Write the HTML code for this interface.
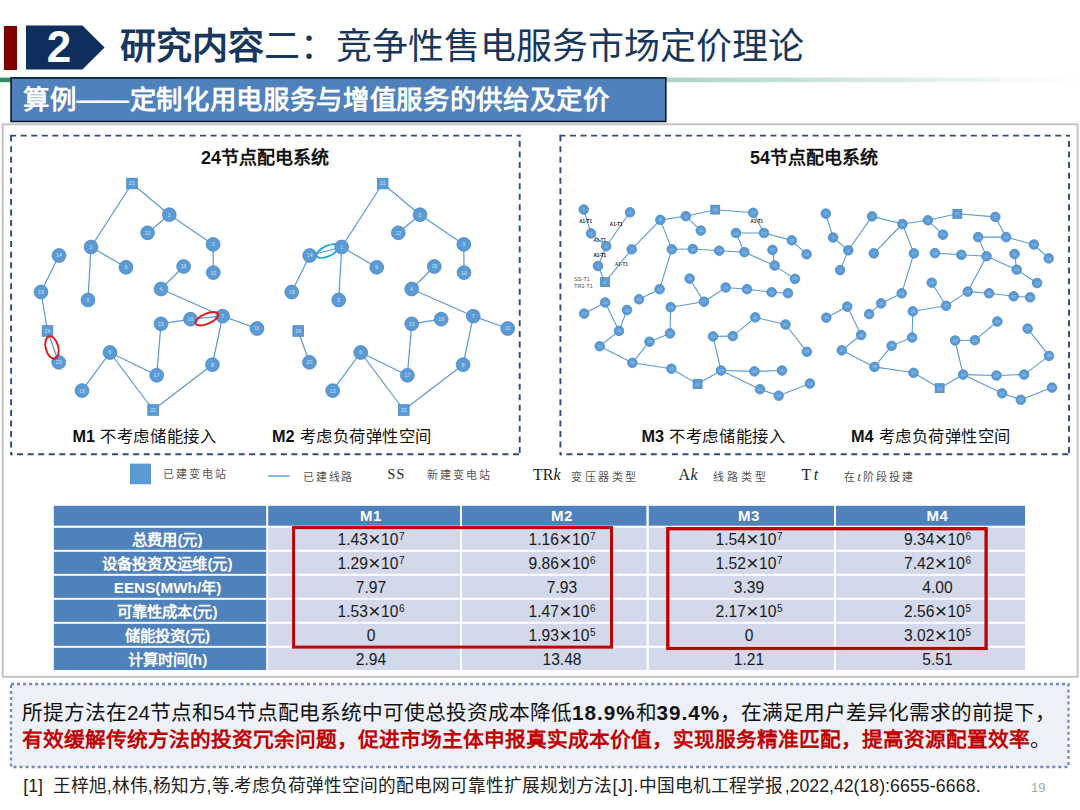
<!DOCTYPE html>
<html lang="zh-CN"><head><meta charset="utf-8"><title>slide</title>
<style>
html,body{margin:0;padding:0;background:#fff}
body{width:1080px;height:810px;position:relative;overflow:hidden;font-family:"Liberation Sans",sans-serif;color:#111}
.abs{position:absolute;white-space:nowrap}
.j{text-align:justify;text-align-last:justify}
.ht{color:#fff;font-weight:bold;font-size:15px;text-align:center;letter-spacing:.5px}
.rl{color:#fff;font-weight:bold;font-size:15.3px}
.dv{color:#1a1a1a;font-size:15.6px;text-align:center}
sup{font-size:10px;vertical-align:baseline;position:relative;top:-4.6px;line-height:0;margin-left:.5px}
.x{font-size:21px;line-height:0;position:relative;top:1.2px;margin:0 .5px}
.ser{font-family:"Liberation Serif",serif}
.lgs{font-family:"Liberation Serif",serif;font-size:14.5px;color:#222;line-height:16px;height:16px}
.ls{letter-spacing:1px}
</style></head><body>
<svg class="abs" style="left:0;top:0" width="1080" height="810" viewBox="0 0 1080 810"><defs><linearGradient id="gg" x1="0" x2="1" y1="0" y2="0"><stop offset="0" stop-color="#2e8b62"/><stop offset="1" stop-color="#ffffff"/></linearGradient></defs><rect x="0" y="77.6" width="1080" height="4.6" fill="url(#gg)"/><rect x="2.7" y="124.3" width="1074.9" height="552.5" fill="#fff" stroke="#c1c1c1" stroke-width="1.9"/><rect x="11.1" y="77.9" width="654.7" height="43.6" fill="#4f81bd" stroke="#0a1626" stroke-width="1.6"/><rect x="11" y="684" width="1057.5" height="83" fill="#eef1f8" stroke="#7189c3" stroke-width="2.3" stroke-dasharray="3 3.04"/><rect x="53.8" y="505.8" width="212.4" height="19.9" fill="#4f81bd"/><rect x="268.2" y="505.8" width="191.8" height="19.9" fill="#4f81bd"/><rect x="462" y="505.8" width="184.4" height="19.9" fill="#4f81bd"/><rect x="648.8" y="505.8" width="185.2" height="19.9" fill="#4f81bd"/><rect x="836" y="505.8" width="189.0" height="19.9" fill="#4f81bd"/><rect x="53.8" y="527.8" width="212.4" height="22" fill="#4f81bd"/><rect x="268.2" y="527.8" width="191.8" height="22" fill="#d3d8ea"/><rect x="462" y="527.8" width="184.4" height="22" fill="#d3d8ea"/><rect x="648.8" y="527.8" width="185.2" height="22" fill="#d3d8ea"/><rect x="836" y="527.8" width="189.0" height="22" fill="#d3d8ea"/><rect x="53.8" y="551.8" width="212.4" height="22" fill="#4f81bd"/><rect x="268.2" y="551.8" width="191.8" height="22" fill="#d3d8ea"/><rect x="462" y="551.8" width="184.4" height="22" fill="#d3d8ea"/><rect x="648.8" y="551.8" width="185.2" height="22" fill="#d3d8ea"/><rect x="836" y="551.8" width="189.0" height="22" fill="#d3d8ea"/><rect x="53.8" y="575.8" width="212.4" height="22" fill="#4f81bd"/><rect x="268.2" y="575.8" width="191.8" height="22" fill="#d3d8ea"/><rect x="462" y="575.8" width="184.4" height="22" fill="#d3d8ea"/><rect x="648.8" y="575.8" width="185.2" height="22" fill="#d3d8ea"/><rect x="836" y="575.8" width="189.0" height="22" fill="#d3d8ea"/><rect x="53.8" y="599.8" width="212.4" height="22" fill="#4f81bd"/><rect x="268.2" y="599.8" width="191.8" height="22" fill="#d3d8ea"/><rect x="462" y="599.8" width="184.4" height="22" fill="#d3d8ea"/><rect x="648.8" y="599.8" width="185.2" height="22" fill="#d3d8ea"/><rect x="836" y="599.8" width="189.0" height="22" fill="#d3d8ea"/><rect x="53.8" y="623.8" width="212.4" height="22" fill="#4f81bd"/><rect x="268.2" y="623.8" width="191.8" height="22" fill="#d3d8ea"/><rect x="462" y="623.8" width="184.4" height="22" fill="#d3d8ea"/><rect x="648.8" y="623.8" width="185.2" height="22" fill="#d3d8ea"/><rect x="836" y="623.8" width="189.0" height="22" fill="#d3d8ea"/><rect x="53.8" y="647.8" width="212.4" height="22.2" fill="#4f81bd"/><rect x="268.2" y="647.8" width="191.8" height="22.2" fill="#d3d8ea"/><rect x="462" y="647.8" width="184.4" height="22.2" fill="#d3d8ea"/><rect x="648.8" y="647.8" width="185.2" height="22.2" fill="#d3d8ea"/><rect x="836" y="647.8" width="189.0" height="22.2" fill="#d3d8ea"/></svg>
<div class="abs" style="left:4.4px;top:25.6px;width:12.6px;height:44px;background:#800000"></div>
<svg class="abs" style="left:0;top:0" width="120" height="80" viewBox="0 0 120 80"><polygon points="26,25.6 82.4,25.6 104.6,47.6 82.4,69.6 26,69.6" fill="#0e2f5e"/></svg>
<div class="abs" style="left:29px;top:22px;width:60px;height:50px;line-height:50px;text-align:center;color:#fff;font-weight:bold;font-size:44px">2</div>
<svg class="abs" style="left:0;top:0" width="1080" height="810" viewBox="0 0 1080 810"><g stroke="#5b9bd5" stroke-width="1.25" stroke-linecap="round"><line x1="132.0" y1="183.5" x2="169.3" y2="214.7"/><line x1="132.0" y1="183.5" x2="91.0" y2="247.0"/><line x1="169.3" y1="214.7" x2="147.6" y2="232.8"/><line x1="169.3" y1="214.7" x2="213.1" y2="244.4"/><line x1="213.1" y1="244.4" x2="213.3" y2="272.6"/><line x1="91.0" y1="247.0" x2="126.0" y2="267.3"/><line x1="91.0" y1="247.0" x2="88.0" y2="300.0"/><line x1="59.0" y1="255.5" x2="41.0" y2="292.0"/><line x1="41.0" y1="292.0" x2="47.5" y2="331.0"/><line x1="47.5" y1="331.0" x2="58.7" y2="362.3"/><line x1="183.6" y1="266.5" x2="161.0" y2="289.0"/><line x1="161.0" y1="289.0" x2="222.6" y2="316.2"/><line x1="222.6" y1="316.2" x2="190.5" y2="319.2"/><line x1="190.5" y1="319.2" x2="161.0" y2="323.8"/><line x1="161.0" y1="323.8" x2="156.7" y2="375.3"/><line x1="222.6" y1="316.2" x2="257.0" y2="328.5"/><line x1="222.6" y1="316.2" x2="212.4" y2="364.7"/><line x1="212.4" y1="364.7" x2="153.1" y2="410.0"/><line x1="153.1" y1="410.0" x2="110.0" y2="352.5"/><line x1="110.0" y1="352.5" x2="156.7" y2="375.3"/><line x1="110.0" y1="352.5" x2="82.0" y2="390.6"/></g><g fill="#5b9bd5" stroke="#4a87c5" stroke-width="0.8"><rect x="126.7" y="178.2" width="10.6" height="10.6"/><circle cx="169.3" cy="214.7" r="6.9"/><circle cx="147.6" cy="232.8" r="6.9"/><circle cx="213.1" cy="244.4" r="6.9"/><circle cx="213.3" cy="272.6" r="6.9"/><circle cx="91.0" cy="247.0" r="6.9"/><circle cx="126.0" cy="267.3" r="6.9"/><circle cx="59.0" cy="255.5" r="6.9"/><circle cx="183.6" cy="266.5" r="6.9"/><circle cx="161.0" cy="289.0" r="6.9"/><circle cx="41.0" cy="292.0" r="6.9"/><circle cx="88.0" cy="300.0" r="6.9"/><circle cx="222.6" cy="316.2" r="6.9"/><circle cx="190.5" cy="319.2" r="6.9"/><circle cx="161.0" cy="323.8" r="6.9"/><circle cx="257.0" cy="328.5" r="6.9"/><rect x="42.2" y="325.7" width="10.6" height="10.6"/><circle cx="58.7" cy="362.3" r="6.9"/><circle cx="110.0" cy="352.5" r="6.9"/><circle cx="212.4" cy="364.7" r="6.9"/><circle cx="156.7" cy="375.3" r="6.9"/><circle cx="82.0" cy="390.6" r="6.9"/><rect x="147.8" y="404.7" width="10.6" height="10.6"/></g><g fill="#d0e2f4" font-size="5.2" text-anchor="middle" font-family="Liberation Sans, sans-serif"><text x="132.0" y="185.4">21</text><text x="169.3" y="216.6">2</text><text x="147.6" y="234.7">12</text><text x="213.1" y="246.3">3</text><text x="213.3" y="274.5">10</text><text x="91.0" y="248.9">1</text><text x="126.0" y="269.2">9</text><text x="59.0" y="257.4">14</text><text x="183.6" y="268.4">16</text><text x="161.0" y="290.9">4</text><text x="41.0" y="293.9">18</text><text x="88.0" y="301.9">5</text><text x="222.6" y="318.1">7</text><text x="190.5" y="321.1">19</text><text x="161.0" y="325.7">15</text><text x="257.0" y="330.4">11</text><text x="47.5" y="332.9">24</text><text x="58.7" y="364.2">20</text><text x="110.0" y="354.4">6</text><text x="212.4" y="366.6">8</text><text x="156.7" y="377.2">17</text><text x="82.0" y="392.5">13</text><text x="153.1" y="411.9">22</text></g><g stroke="#5b9bd5" stroke-width="1.25" stroke-linecap="round"><line x1="382.7" y1="183.5" x2="420.0" y2="214.7"/><line x1="382.7" y1="183.5" x2="341.7" y2="247.0"/><line x1="420.0" y1="214.7" x2="398.3" y2="232.8"/><line x1="420.0" y1="214.7" x2="463.8" y2="244.4"/><line x1="463.8" y1="244.4" x2="464.0" y2="272.6"/><line x1="341.7" y1="247.0" x2="376.7" y2="267.3"/><line x1="341.7" y1="247.0" x2="338.7" y2="300.0"/><line x1="309.7" y1="255.5" x2="341.7" y2="247.0"/><line x1="309.7" y1="255.5" x2="291.7" y2="292.0"/><line x1="298.2" y1="331.0" x2="309.4" y2="362.3"/><line x1="434.3" y1="266.5" x2="411.7" y2="289.0"/><line x1="411.7" y1="289.0" x2="473.3" y2="316.2"/><line x1="473.3" y1="316.2" x2="507.7" y2="328.5"/><line x1="473.3" y1="316.2" x2="463.1" y2="364.7"/><line x1="463.1" y1="364.7" x2="403.8" y2="410.0"/><line x1="403.8" y1="410.0" x2="360.7" y2="352.5"/><line x1="360.7" y1="352.5" x2="407.4" y2="375.3"/><line x1="360.7" y1="352.5" x2="332.7" y2="390.6"/><line x1="411.7" y1="323.8" x2="441.2" y2="319.2"/><line x1="411.7" y1="323.8" x2="407.4" y2="375.3"/></g><ellipse cx="327.6" cy="251.1" rx="12" ry="5.2" transform="rotate(-25 327.6 251.1)" fill="none" stroke="#19a7e0" stroke-width="1.7"/><g fill="#5b9bd5" stroke="#4a87c5" stroke-width="0.8"><rect x="377.4" y="178.2" width="10.6" height="10.6"/><circle cx="420.0" cy="214.7" r="6.9"/><circle cx="398.3" cy="232.8" r="6.9"/><circle cx="463.8" cy="244.4" r="6.9"/><circle cx="464.0" cy="272.6" r="6.9"/><circle cx="341.7" cy="247.0" r="6.9"/><circle cx="376.7" cy="267.3" r="6.9"/><circle cx="309.7" cy="255.5" r="6.9"/><circle cx="434.3" cy="266.5" r="6.9"/><circle cx="411.7" cy="289.0" r="6.9"/><circle cx="291.7" cy="292.0" r="6.9"/><circle cx="338.7" cy="300.0" r="6.9"/><circle cx="473.3" cy="316.2" r="6.9"/><circle cx="441.2" cy="319.2" r="6.9"/><circle cx="411.7" cy="323.8" r="6.9"/><circle cx="507.7" cy="328.5" r="6.9"/><rect x="292.9" y="325.7" width="10.6" height="10.6"/><circle cx="309.4" cy="362.3" r="6.9"/><circle cx="360.7" cy="352.5" r="6.9"/><circle cx="463.1" cy="364.7" r="6.9"/><circle cx="407.4" cy="375.3" r="6.9"/><circle cx="332.7" cy="390.6" r="6.9"/><rect x="398.5" y="404.7" width="10.6" height="10.6"/></g><g fill="#d0e2f4" font-size="5.2" text-anchor="middle" font-family="Liberation Sans, sans-serif"><text x="382.7" y="185.4">21</text><text x="420.0" y="216.6">2</text><text x="398.3" y="234.7">12</text><text x="463.8" y="246.3">3</text><text x="464.0" y="274.5">10</text><text x="341.7" y="248.9">1</text><text x="376.7" y="269.2">9</text><text x="309.7" y="257.4">14</text><text x="434.3" y="268.4">16</text><text x="411.7" y="290.9">4</text><text x="291.7" y="293.9">18</text><text x="338.7" y="301.9">5</text><text x="473.3" y="318.1">7</text><text x="441.2" y="321.1">19</text><text x="411.7" y="325.7">15</text><text x="507.7" y="330.4">11</text><text x="298.2" y="332.9">24</text><text x="309.4" y="364.2">20</text><text x="360.7" y="354.4">6</text><text x="463.1" y="366.6">8</text><text x="407.4" y="377.2">17</text><text x="332.7" y="392.5">13</text><text x="403.8" y="411.9">22</text></g><g stroke="#5b9bd5" stroke-width="1.1" stroke-linecap="round"><line x1="583.7" y1="209.5" x2="591.0" y2="233.4"/><line x1="591.0" y1="233.4" x2="606.2" y2="246.2"/><line x1="606.2" y1="246.2" x2="630.0" y2="212.3"/><line x1="606.2" y1="246.2" x2="598.0" y2="266.0"/><line x1="598.0" y1="266.0" x2="605.0" y2="282.2"/><line x1="605.0" y1="282.2" x2="631.7" y2="249.3"/><line x1="631.7" y1="249.3" x2="660.3" y2="219.9"/><line x1="660.3" y1="219.9" x2="685.8" y2="216.2"/><line x1="685.8" y1="216.2" x2="700.8" y2="230.6"/><line x1="685.8" y1="216.2" x2="715.2" y2="209.7"/><line x1="715.2" y1="209.7" x2="753.2" y2="212.8"/><line x1="753.2" y1="212.8" x2="764.0" y2="233.0"/><line x1="764.0" y1="233.0" x2="736.0" y2="233.0"/><line x1="736.0" y1="233.0" x2="744.4" y2="252.2"/><line x1="764.0" y1="233.0" x2="791.8" y2="240.4"/><line x1="791.8" y1="240.4" x2="806.6" y2="254.3"/><line x1="660.3" y1="219.9" x2="671.8" y2="249.3"/><line x1="671.8" y1="249.3" x2="692.8" y2="249.0"/><line x1="692.8" y1="249.0" x2="719.2" y2="250.7"/><line x1="719.2" y1="250.7" x2="744.4" y2="252.2"/><line x1="744.4" y1="252.2" x2="774.6" y2="265.6"/><line x1="772.5" y1="249.9" x2="774.6" y2="265.6"/><line x1="774.6" y1="265.6" x2="795.0" y2="278.9"/><line x1="671.8" y1="249.3" x2="659.6" y2="289.2"/><line x1="659.6" y1="289.2" x2="639.0" y2="299.3"/><line x1="689.6" y1="278.6" x2="704.0" y2="301.7"/><line x1="704.0" y1="301.7" x2="670.7" y2="307.2"/><line x1="704.0" y1="301.7" x2="725.7" y2="287.5"/><line x1="725.7" y1="287.5" x2="747.0" y2="289.2"/><line x1="747.0" y1="289.2" x2="771.6" y2="292.2"/><line x1="771.6" y1="292.2" x2="788.0" y2="293.2"/><line x1="670.7" y1="307.2" x2="670.0" y2="333.4"/><line x1="670.0" y1="333.4" x2="649.5" y2="341.7"/><line x1="649.5" y1="341.7" x2="632.3" y2="362.8"/><line x1="632.3" y1="362.8" x2="599.7" y2="346.2"/><line x1="599.7" y1="346.2" x2="619.0" y2="330.9"/><line x1="619.0" y1="330.9" x2="605.2" y2="302.5"/><line x1="605.2" y1="302.5" x2="584.2" y2="313.6"/><line x1="619.0" y1="330.9" x2="627.0" y2="310.0"/><line x1="632.3" y1="362.8" x2="671.4" y2="368.7"/><line x1="671.4" y1="368.7" x2="697.6" y2="384.1"/><line x1="697.6" y1="384.1" x2="721.0" y2="370.5"/><line x1="721.0" y1="370.5" x2="713.0" y2="336.4"/><line x1="713.0" y1="336.4" x2="732.8" y2="336.1"/><line x1="732.8" y1="336.1" x2="755.3" y2="317.4"/><line x1="755.3" y1="317.4" x2="785.5" y2="324.5"/><line x1="785.5" y1="324.5" x2="806.9" y2="351.8"/><line x1="721.0" y1="370.5" x2="754.4" y2="371.4"/><line x1="754.4" y1="371.4" x2="782.0" y2="370.5"/><line x1="721.0" y1="370.5" x2="760.0" y2="389.2"/><line x1="760.0" y1="389.2" x2="778.7" y2="395.7"/><line x1="778.7" y1="395.7" x2="809.9" y2="383.5"/></g><g fill="#5b9bd5" stroke="#4a87c5" stroke-width="0.8"><circle cx="583.7" cy="209.5" r="4.8"/><circle cx="630.0" cy="212.3" r="4.8"/><circle cx="591.0" cy="233.4" r="4.8"/><circle cx="606.2" cy="246.2" r="4.8"/><circle cx="598.0" cy="266.0" r="4.8"/><rect x="600.5" y="277.7" width="8.9" height="8.9"/><circle cx="631.7" cy="249.3" r="4.8"/><circle cx="660.3" cy="219.9" r="4.8"/><circle cx="685.8" cy="216.2" r="4.8"/><circle cx="700.8" cy="230.6" r="4.8"/><rect x="710.8" y="205.2" width="8.9" height="8.9"/><circle cx="753.2" cy="212.8" r="4.8"/><circle cx="764.0" cy="233.0" r="4.8"/><circle cx="736.0" cy="233.0" r="4.8"/><circle cx="791.8" cy="240.4" r="4.8"/><circle cx="806.6" cy="254.3" r="4.8"/><circle cx="671.8" cy="249.3" r="4.8"/><circle cx="692.8" cy="249.0" r="4.8"/><circle cx="719.2" cy="250.7" r="4.8"/><circle cx="744.4" cy="252.2" r="4.8"/><circle cx="772.5" cy="249.9" r="4.8"/><circle cx="774.6" cy="265.6" r="4.8"/><circle cx="795.0" cy="278.9" r="4.8"/><circle cx="659.6" cy="289.2" r="4.8"/><circle cx="639.0" cy="299.3" r="4.8"/><circle cx="689.6" cy="278.6" r="4.8"/><circle cx="704.0" cy="301.7" r="4.8"/><circle cx="670.7" cy="307.2" r="4.8"/><circle cx="725.7" cy="287.5" r="4.8"/><circle cx="747.0" cy="289.2" r="4.8"/><circle cx="771.6" cy="292.2" r="4.8"/><circle cx="788.0" cy="293.2" r="4.8"/><circle cx="605.2" cy="302.5" r="4.8"/><circle cx="584.2" cy="313.6" r="4.8"/><circle cx="627.0" cy="310.0" r="4.8"/><circle cx="619.0" cy="330.9" r="4.8"/><circle cx="599.7" cy="346.2" r="4.8"/><circle cx="632.3" cy="362.8" r="4.8"/><circle cx="649.5" cy="341.7" r="4.8"/><circle cx="670.0" cy="333.4" r="4.8"/><circle cx="671.4" cy="368.7" r="4.8"/><rect x="693.1" y="379.6" width="8.9" height="8.9"/><circle cx="721.0" cy="370.5" r="4.8"/><circle cx="713.0" cy="336.4" r="4.8"/><circle cx="732.8" cy="336.1" r="4.8"/><circle cx="755.3" cy="317.4" r="4.8"/><circle cx="785.5" cy="324.5" r="4.8"/><circle cx="806.9" cy="351.8" r="4.8"/><circle cx="754.4" cy="371.4" r="4.8"/><circle cx="782.0" cy="370.5" r="4.8"/><circle cx="760.0" cy="389.2" r="4.8"/><circle cx="778.7" cy="395.7" r="4.8"/><circle cx="809.9" cy="383.5" r="4.8"/></g><g fill="#a9cdee" font-size="4.3" text-anchor="middle" font-family="Liberation Sans, sans-serif"><text x="583.7" y="211.0">1</text><text x="630.0" y="213.8">2</text><text x="591.0" y="234.9">3</text><text x="606.2" y="247.7">4</text><text x="598.0" y="267.5">5</text><text x="605.0" y="283.7">6</text><text x="631.7" y="250.8">7</text><text x="660.3" y="221.4">8</text><text x="685.8" y="217.7">9</text><text x="700.8" y="232.1">10</text><text x="715.2" y="211.2">11</text><text x="753.2" y="214.3">12</text><text x="764.0" y="234.5">13</text><text x="736.0" y="234.5">14</text><text x="791.8" y="241.9">15</text><text x="806.6" y="255.8">16</text><text x="671.8" y="250.8">17</text><text x="692.8" y="250.5">18</text><text x="719.2" y="252.2">19</text><text x="744.4" y="253.7">20</text><text x="772.5" y="251.4">21</text><text x="774.6" y="267.1">22</text><text x="795.0" y="280.4">23</text><text x="659.6" y="290.7">24</text><text x="639.0" y="300.8">25</text><text x="689.6" y="280.1">26</text><text x="704.0" y="303.2">27</text><text x="670.7" y="308.7">28</text><text x="725.7" y="289.0">29</text><text x="747.0" y="290.7">30</text><text x="771.6" y="293.7">31</text><text x="788.0" y="294.7">32</text><text x="605.2" y="304.0">33</text><text x="584.2" y="315.1">34</text><text x="627.0" y="311.5">35</text><text x="619.0" y="332.4">36</text><text x="599.7" y="347.7">37</text><text x="632.3" y="364.3">38</text><text x="649.5" y="343.2">39</text><text x="670.0" y="334.9">40</text><text x="671.4" y="370.2">41</text><text x="697.6" y="385.6">42</text><text x="721.0" y="372.0">43</text><text x="713.0" y="337.9">44</text><text x="732.8" y="337.6">45</text><text x="755.3" y="318.9">46</text><text x="785.5" y="326.0">47</text><text x="806.9" y="353.3">48</text><text x="754.4" y="372.9">49</text><text x="782.0" y="372.0">50</text><text x="760.0" y="390.7">51</text><text x="778.7" y="397.2">52</text><text x="809.9" y="385.0">53</text></g><g stroke="#5b9bd5" stroke-width="1.1" stroke-linecap="round"><line x1="825.8" y1="213.6" x2="833.1" y2="237.5"/><line x1="833.1" y1="237.5" x2="848.3" y2="250.3"/><line x1="848.3" y1="250.3" x2="872.1" y2="216.4"/><line x1="848.3" y1="250.3" x2="840.1" y2="270.1"/><line x1="872.1" y1="216.4" x2="902.4" y2="224.0"/><line x1="873.8" y1="253.4" x2="902.4" y2="224.0"/><line x1="902.4" y1="224.0" x2="927.9" y2="220.3"/><line x1="927.9" y1="220.3" x2="942.9" y2="234.7"/><line x1="927.9" y1="220.3" x2="957.3" y2="213.8"/><line x1="957.3" y1="213.8" x2="995.3" y2="216.9"/><line x1="995.3" y1="216.9" x2="1006.1" y2="237.1"/><line x1="1006.1" y1="237.1" x2="978.1" y2="237.1"/><line x1="978.1" y1="237.1" x2="986.5" y2="256.3"/><line x1="1006.1" y1="237.1" x2="1033.9" y2="244.5"/><line x1="1033.9" y1="244.5" x2="1048.7" y2="258.4"/><line x1="902.4" y1="224.0" x2="913.9" y2="253.4"/><line x1="913.9" y1="253.4" x2="901.7" y2="293.3"/><line x1="901.7" y1="293.3" x2="881.1" y2="303.4"/><line x1="881.1" y1="303.4" x2="869.1" y2="314.1"/><line x1="934.9" y1="253.1" x2="961.3" y2="254.8"/><line x1="961.3" y1="254.8" x2="986.5" y2="256.3"/><line x1="986.5" y1="256.3" x2="1016.7" y2="269.7"/><line x1="1014.6" y1="254.0" x2="1016.7" y2="269.7"/><line x1="1016.7" y1="269.7" x2="1037.1" y2="283.0"/><line x1="986.5" y1="256.3" x2="967.8" y2="291.6"/><line x1="931.7" y1="282.7" x2="946.1" y2="305.8"/><line x1="946.1" y1="305.8" x2="912.8" y2="311.3"/><line x1="946.1" y1="305.8" x2="967.8" y2="291.6"/><line x1="967.8" y1="291.6" x2="989.1" y2="293.3"/><line x1="989.1" y1="293.3" x2="1013.7" y2="296.3"/><line x1="1013.7" y1="296.3" x2="1030.1" y2="297.3"/><line x1="912.8" y1="311.3" x2="912.1" y2="337.5"/><line x1="912.1" y1="337.5" x2="891.6" y2="345.8"/><line x1="891.6" y1="345.8" x2="874.4" y2="366.9"/><line x1="874.4" y1="366.9" x2="841.8" y2="350.3"/><line x1="841.8" y1="350.3" x2="861.1" y2="335.0"/><line x1="861.1" y1="335.0" x2="847.3" y2="306.6"/><line x1="847.3" y1="306.6" x2="826.3" y2="317.7"/><line x1="874.4" y1="366.9" x2="913.5" y2="372.8"/><line x1="913.5" y1="372.8" x2="939.7" y2="388.2"/><line x1="939.7" y1="388.2" x2="963.1" y2="374.6"/><line x1="963.1" y1="374.6" x2="955.1" y2="340.5"/><line x1="955.1" y1="340.5" x2="974.9" y2="340.2"/><line x1="974.9" y1="340.2" x2="997.4" y2="321.5"/><line x1="1027.6" y1="328.6" x2="1049.0" y2="355.9"/><line x1="1049.0" y1="355.9" x2="1024.1" y2="374.6"/><line x1="1024.1" y1="374.6" x2="996.5" y2="375.5"/><line x1="996.5" y1="375.5" x2="963.1" y2="374.6"/><line x1="963.1" y1="374.6" x2="1002.1" y2="393.3"/><line x1="1002.1" y1="393.3" x2="1020.8" y2="399.8"/><line x1="1020.8" y1="399.8" x2="1052.0" y2="387.6"/></g><g fill="#5b9bd5" stroke="#4a87c5" stroke-width="0.8"><circle cx="825.8" cy="213.6" r="4.8"/><circle cx="872.1" cy="216.4" r="4.8"/><circle cx="833.1" cy="237.5" r="4.8"/><circle cx="848.3" cy="250.3" r="4.8"/><circle cx="840.1" cy="270.1" r="4.8"/><circle cx="873.8" cy="253.4" r="4.8"/><circle cx="902.4" cy="224.0" r="4.8"/><circle cx="927.9" cy="220.3" r="4.8"/><circle cx="942.9" cy="234.7" r="4.8"/><rect x="952.9" y="209.4" width="8.9" height="8.9"/><circle cx="995.3" cy="216.9" r="4.8"/><circle cx="1006.1" cy="237.1" r="4.8"/><circle cx="978.1" cy="237.1" r="4.8"/><circle cx="1033.9" cy="244.5" r="4.8"/><circle cx="1048.7" cy="258.4" r="4.8"/><circle cx="913.9" cy="253.4" r="4.8"/><circle cx="934.9" cy="253.1" r="4.8"/><circle cx="961.3" cy="254.8" r="4.8"/><circle cx="986.5" cy="256.3" r="4.8"/><circle cx="1014.6" cy="254.0" r="4.8"/><circle cx="1016.7" cy="269.7" r="4.8"/><circle cx="1037.1" cy="283.0" r="4.8"/><circle cx="901.7" cy="293.3" r="4.8"/><circle cx="881.1" cy="303.4" r="4.8"/><circle cx="931.7" cy="282.7" r="4.8"/><circle cx="946.1" cy="305.8" r="4.8"/><circle cx="912.8" cy="311.3" r="4.8"/><circle cx="967.8" cy="291.6" r="4.8"/><circle cx="989.1" cy="293.3" r="4.8"/><circle cx="1013.7" cy="296.3" r="4.8"/><circle cx="1030.1" cy="297.3" r="4.8"/><circle cx="847.3" cy="306.6" r="4.8"/><circle cx="826.3" cy="317.7" r="4.8"/><circle cx="869.1" cy="314.1" r="4.8"/><circle cx="861.1" cy="335.0" r="4.8"/><circle cx="841.8" cy="350.3" r="4.8"/><circle cx="874.4" cy="366.9" r="4.8"/><circle cx="891.6" cy="345.8" r="4.8"/><circle cx="912.1" cy="337.5" r="4.8"/><circle cx="913.5" cy="372.8" r="4.8"/><rect x="935.2" y="383.7" width="8.9" height="8.9"/><circle cx="963.1" cy="374.6" r="4.8"/><circle cx="955.1" cy="340.5" r="4.8"/><circle cx="974.9" cy="340.2" r="4.8"/><circle cx="997.4" cy="321.5" r="4.8"/><circle cx="1027.6" cy="328.6" r="4.8"/><circle cx="1049.0" cy="355.9" r="4.8"/><circle cx="996.5" cy="375.5" r="4.8"/><circle cx="1024.1" cy="374.6" r="4.8"/><circle cx="1002.1" cy="393.3" r="4.8"/><circle cx="1020.8" cy="399.8" r="4.8"/><circle cx="1052.0" cy="387.6" r="4.8"/></g><g fill="#a9cdee" font-size="4.3" text-anchor="middle" font-family="Liberation Sans, sans-serif"><text x="825.8" y="215.1">1</text><text x="872.1" y="217.9">2</text><text x="833.1" y="239.0">3</text><text x="848.3" y="251.8">4</text><text x="840.1" y="271.6">5</text><text x="873.8" y="254.9">7</text><text x="902.4" y="225.5">8</text><text x="927.9" y="221.8">9</text><text x="942.9" y="236.2">10</text><text x="957.3" y="215.3">11</text><text x="995.3" y="218.4">12</text><text x="1006.1" y="238.6">13</text><text x="978.1" y="238.6">14</text><text x="1033.9" y="246.0">15</text><text x="1048.7" y="259.9">16</text><text x="913.9" y="254.9">17</text><text x="934.9" y="254.6">18</text><text x="961.3" y="256.3">19</text><text x="986.5" y="257.8">20</text><text x="1014.6" y="255.5">21</text><text x="1016.7" y="271.2">22</text><text x="1037.1" y="284.5">23</text><text x="901.7" y="294.8">24</text><text x="881.1" y="304.9">25</text><text x="931.7" y="284.2">26</text><text x="946.1" y="307.3">27</text><text x="912.8" y="312.8">28</text><text x="967.8" y="293.1">29</text><text x="989.1" y="294.8">30</text><text x="1013.7" y="297.8">31</text><text x="1030.1" y="298.8">32</text><text x="847.3" y="308.1">33</text><text x="826.3" y="319.2">34</text><text x="869.1" y="315.6">35</text><text x="861.1" y="336.5">36</text><text x="841.8" y="351.8">37</text><text x="874.4" y="368.4">38</text><text x="891.6" y="347.3">39</text><text x="912.1" y="339.0">40</text><text x="913.5" y="374.3">41</text><text x="939.7" y="389.7">42</text><text x="963.1" y="376.1">43</text><text x="955.1" y="342.0">44</text><text x="974.9" y="341.7">45</text><text x="997.4" y="323.0">46</text><text x="1027.6" y="330.1">47</text><text x="1049.0" y="357.4">48</text><text x="996.5" y="377.0">49</text><text x="1024.1" y="376.1">50</text><text x="1002.1" y="394.8">51</text><text x="1020.8" y="401.3">52</text><text x="1052.0" y="389.1">53</text></g><ellipse cx="206.9" cy="318.8" rx="12.2" ry="5.1" transform="rotate(-23.4 206.9 318.8)" fill="none" stroke="#e0161c" stroke-width="1.9"/><ellipse cx="52" cy="347.5" rx="6.3" ry="11.5" transform="rotate(-14.2 52 347.5)" fill="none" stroke="#e0161c" stroke-width="1.9"/><text x="585.6" y="223" font-size="4.6" font-weight="bold" text-anchor="middle" fill="#222" font-family="Liberation Sans, sans-serif">A1-T1</text><text x="616.2" y="225.6" font-size="4.6" font-weight="bold" text-anchor="middle" fill="#222" font-family="Liberation Sans, sans-serif">A1-T1</text><text x="599.8" y="242.2" font-size="4.6" font-weight="bold" text-anchor="middle" fill="#333" font-family="Liberation Sans, sans-serif">A1-T1</text><text x="599.8" y="257.4" font-size="4.6" font-weight="bold" text-anchor="middle" fill="#000" font-family="Liberation Sans, sans-serif">A1-T1</text><text x="621.4" y="266" font-size="4.6" font-weight="bold" text-anchor="middle" fill="#444" font-family="Liberation Sans, sans-serif">A1-T1</text><text x="756.8" y="223" font-size="4.6" font-weight="bold" text-anchor="middle" fill="#222" font-family="Liberation Sans, sans-serif">A1-T1</text><text x="574" y="280.8" font-size="5.6" fill="#555" font-family="Liberation Sans, sans-serif">SS-T1</text><text x="574" y="288" font-size="5.6" fill="#555" font-family="Liberation Sans, sans-serif">TR1-T1</text><g fill="none" stroke="#314b82" stroke-width="1.9" stroke-dasharray="6 4.55" stroke-linecap="butt"><path d="M10.15,135.6H520.6500000000001"/><path d="M11.1,135.6V455.15"/><path d="M519.7,135.6V455.15" stroke-dashoffset="5.15"/><path d="M11.1,454.2H519.7" stroke-dashoffset="4.55"/></g><g fill="none" stroke="#314b82" stroke-width="1.9" stroke-dasharray="6 4.55" stroke-linecap="butt"><path d="M559.4499999999999,135.6H1069.95"/><path d="M560.4,135.6V455.15"/><path d="M1069,135.6V455.15" stroke-dashoffset="5.15"/><path d="M560.4,454.2H1069" stroke-dashoffset="4.55"/></g><rect x="130.4" y="464.1" width="20" height="19.7" fill="#5b9bd5" stroke="#4f8dc8" stroke-width="0.9"/><line x1="268" y1="476" x2="289.6" y2="476" stroke="#5b9bd5" stroke-width="1.4"/></svg>
<div class="abs j" style="left:120px;top:24px;width:684.0px;height:46px;line-height:46px;font-size:36px;color:#17375e"><b>研究内容</b>二：竞争性售电服务市场定价理论</div><div class="abs j" style="left:23px;top:80px;width:586.0px;height:40px;line-height:40px;font-size:26.4px;font-weight:bold;color:#fff">算例——定制化用电服务与增值服务的供给及定价</div><div class="abs j" style="left:201px;top:146px;width:128.0px;height:24px;line-height:24px;font-size:18px;font-weight:bold;color:#111">24节点配电系统</div><div class="abs j" style="left:750px;top:146px;width:128.0px;height:24px;line-height:24px;font-size:18px;font-weight:bold;color:#111">54节点配电系统</div><div class="abs j" style="left:72.5px;top:426px;width:143.2px;height:20px;line-height:20px;font-size:16.3px;"><b>M1</b> 不考虑储能接入</div><div class="abs j" style="left:272px;top:426px;width:159.5px;height:20px;line-height:20px;font-size:16.3px;"><b>M2</b> 考虑负荷弹性空间</div><div class="abs j" style="left:641.5px;top:426px;width:143.2px;height:20px;line-height:20px;font-size:16.3px;"><b>M3</b> 不考虑储能接入</div><div class="abs j" style="left:851px;top:426px;width:159.5px;height:20px;line-height:20px;font-size:16.3px;"><b>M4</b> 考虑负荷弹性空间</div><div class="abs j" style="left:162.6px;top:467.3px;width:63.3px;height:14px;line-height:14px;font-size:11px;color:#555">已建变电站</div><div class="abs j" style="left:303.3px;top:470.2px;width:49.2px;height:14px;line-height:14px;font-size:11px;color:#555">已建线路</div><div class="abs j" style="left:426.7px;top:467.5px;width:62.9px;height:14px;line-height:14px;font-size:11px;color:#555">新建变电站</div><div class="abs j" style="left:571px;top:470px;width:65.0px;height:14px;line-height:14px;font-size:11px;color:#555">变压器类型</div><div class="abs j" style="left:713.3px;top:470px;width:52.7px;height:14px;line-height:14px;font-size:11px;color:#555">线路类型</div><div class="abs j" style="left:844.4px;top:470px;width:68.4px;height:14px;line-height:14px;font-size:11px;color:#555">在<i class="ser" style="font-size:13.5px">t</i>阶段投建</div><div id="l1" class="abs j" style="left:21.9px;top:699px;width:1034.4px;height:27px;line-height:27px;font-size:20.7px;color:#111">所提方法在24节点和54节点配电系统中可使总投资成本降低<b class="ls">18.9%</b>和<b class="ls">39.4%</b>，在满足用户差异化需求的前提下，</div><div id="l2" class="abs j" style="left:22.2px;top:725.7px;width:1029.0px;height:27px;line-height:27px;font-size:20.7px;color:#111"><b style="color:#c00000">有效缓解传统方法的投资冗余问题，促进市场主体申报真实成本价值，实现服务精准匹配，提高资源配置效率</b>。</div><div id="ref" class="abs j" style="left:23.3px;top:775px;width:957.4px;height:22px;line-height:22px;font-size:17.7px;color:#222">[1]&nbsp; 王梓旭,林伟,杨知方,等.考虑负荷弹性空间的配电网可靠性扩展规划方法<span style="letter-spacing:.8px">[J].</span>中国电机工程学报<span style="margin-left:1.5px">,</span>2022,42(18):<span style="letter-spacing:.12px">6655-6668.</span></div>
<div class="abs lgs" style="left:387.6px;top:467.2px;font-size:14px;letter-spacing:1px">SS</div>
<div class="abs lgs" style="left:533px;top:467px;font-size:16px">TR<i>k</i></div>
<div class="abs lgs" style="left:678.5px;top:467px;font-size:16px;letter-spacing:.5px">A<i>k</i></div>
<div class="abs lgs" style="left:801.5px;top:467px;font-size:16px">T<i style="margin-left:2.5px">t</i></div>
<div class="abs ht" style="left:311px;top:505.8px;width:120px;height:19.9px;line-height:20.9px">M1</div><div class="abs ht" style="left:502px;top:505.8px;width:120px;height:19.9px;line-height:20.9px">M2</div><div class="abs ht" style="left:689px;top:505.8px;width:120px;height:19.9px;line-height:20.9px">M3</div><div class="abs ht" style="left:877.5px;top:505.8px;width:120px;height:19.9px;line-height:20.9px">M4</div><div class="abs rl j" style="left:132.4px;top:527.8px;width:70.2px;height:22px;line-height:23px">总费用(元)</div><div class="abs dv" style="left:301px;top:527.8px;width:140px;height:22px;line-height:23px">1.43<span class="x">×</span>10<sup>7</sup></div><div class="abs dv" style="left:492px;top:527.8px;width:140px;height:22px;line-height:23px">1.16<span class="x">×</span>10<sup>7</sup></div><div class="abs dv" style="left:679px;top:527.8px;width:140px;height:22px;line-height:23px">1.54<span class="x">×</span>10<sup>7</sup></div><div class="abs dv" style="left:867.5px;top:527.8px;width:140px;height:22px;line-height:23px">9.34<span class="x">×</span>10<sup>6</sup></div><div class="abs rl j" style="left:102.4px;top:551.8px;width:130.2px;height:22px;line-height:23px">设备投资及运维(元)</div><div class="abs dv" style="left:301px;top:551.8px;width:140px;height:22px;line-height:23px">1.29<span class="x">×</span>10<sup>7</sup></div><div class="abs dv" style="left:492px;top:551.8px;width:140px;height:22px;line-height:23px">9.86<span class="x">×</span>10<sup>6</sup></div><div class="abs dv" style="left:679px;top:551.8px;width:140px;height:22px;line-height:23px">1.52<span class="x">×</span>10<sup>7</sup></div><div class="abs dv" style="left:867.5px;top:551.8px;width:140px;height:22px;line-height:23px">7.42<span class="x">×</span>10<sup>6</sup></div><div class="abs rl j" style="left:113.7px;top:575.8px;width:107.6px;height:22px;line-height:23px">EENS(MWh/年)</div><div class="abs dv" style="left:301px;top:575.8px;width:140px;height:22px;line-height:23px">7.97</div><div class="abs dv" style="left:492px;top:575.8px;width:140px;height:22px;line-height:23px">7.93</div><div class="abs dv" style="left:679px;top:575.8px;width:140px;height:22px;line-height:23px">3.39</div><div class="abs dv" style="left:867.5px;top:575.8px;width:140px;height:22px;line-height:23px">4.00</div><div class="abs rl j" style="left:117.4px;top:599.8px;width:100.2px;height:22px;line-height:23px">可靠性成本(元)</div><div class="abs dv" style="left:301px;top:599.8px;width:140px;height:22px;line-height:23px">1.53<span class="x">×</span>10<sup>6</sup></div><div class="abs dv" style="left:492px;top:599.8px;width:140px;height:22px;line-height:23px">1.47<span class="x">×</span>10<sup>6</sup></div><div class="abs dv" style="left:679px;top:599.8px;width:140px;height:22px;line-height:23px">2.17<span class="x">×</span>10<sup>5</sup></div><div class="abs dv" style="left:867.5px;top:599.8px;width:140px;height:22px;line-height:23px">2.56<span class="x">×</span>10<sup>5</sup></div><div class="abs rl j" style="left:124.9px;top:623.8px;width:85.2px;height:22px;line-height:23px">储能投资(元)</div><div class="abs dv" style="left:301px;top:623.8px;width:140px;height:22px;line-height:23px">0</div><div class="abs dv" style="left:492px;top:623.8px;width:140px;height:22px;line-height:23px">1.93<span class="x">×</span>10<sup>5</sup></div><div class="abs dv" style="left:679px;top:623.8px;width:140px;height:22px;line-height:23px">0</div><div class="abs dv" style="left:867.5px;top:623.8px;width:140px;height:22px;line-height:23px">3.02<span class="x">×</span>10<sup>5</sup></div><div class="abs rl j" style="left:127.7px;top:647.8px;width:79.6px;height:22.2px;line-height:23.2px">计算时间(h)</div><div class="abs dv" style="left:301px;top:647.8px;width:140px;height:22.2px;line-height:23.2px">2.94</div><div class="abs dv" style="left:492px;top:647.8px;width:140px;height:22.2px;line-height:23.2px">13.48</div><div class="abs dv" style="left:679px;top:647.8px;width:140px;height:22.2px;line-height:23.2px">1.21</div><div class="abs dv" style="left:867.5px;top:647.8px;width:140px;height:22.2px;line-height:23.2px">5.51</div>
<svg class="abs" style="left:0;top:0" width="1080" height="810" viewBox="0 0 1080 810"><rect x="293.6" y="527.6" width="317.9" height="119.5" fill="none" stroke="#bd0000" stroke-width="3"/><rect x="667.8" y="528.7" width="318.3" height="119.7" fill="none" stroke="#bd0000" stroke-width="3.3"/></svg>
<div class="abs" style="left:1031px;top:779px;height:18px;line-height:18px;font-size:13px;color:#a6a6a6">19</div>
</body></html>
